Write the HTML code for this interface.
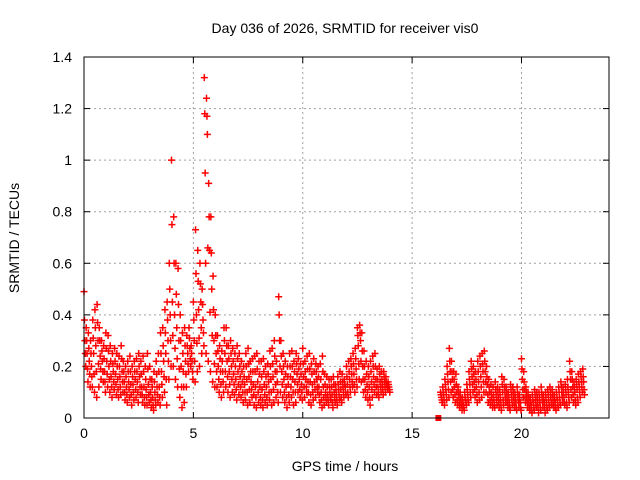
<!DOCTYPE html>
<html><head><meta charset="utf-8"><style>
body{margin:0;background:#fff}
svg{display:block;font-family:"Liberation Sans",sans-serif}
</style></head><body>
<svg id="chart" width="640" height="480" viewBox="0 0 640 480">
<rect width="640" height="480" fill="#fff"/>
<text x="345" y="33" font-size="14" text-anchor="middle">Day 036 of 2026, SRMTID for receiver vis0</text>
<text x="345" y="471" font-size="14" text-anchor="middle">GPS time / hours</text>
<text x="19" y="238" font-size="14" text-anchor="middle" transform="rotate(-90 19 238)">SRMTID / TECUs</text>
<g id="grid"></g>
<g id="axes"></g>
<g id="marks"></g>
<rect x="84" y="57" width="525" height="361" fill="none" stroke="#000" stroke-width="1"/>
</svg>
<script>
const xTicks=[0,5,10,15,20];
const yTicks=[0,0.2,0.4,0.6,0.8,1,1.2,1.4];
const yTickLabels=["0","0.2","0.4","0.6","0.8","1","1.2","1.4"];
const segAStart=0.0, segBStart=16.3, stepHours=0.1;
const segAHi=[0.49,0.35,0.33,0.30,0.38,0.42,0.44,0.35,0.30,0.28,
0.33,0.32,0.28,0.25,0.27,0.25,0.24,0.28,0.22,0.20,
0.22,0.24,0.20,0.22,0.23,0.25,0.22,0.24,0.20,0.25,
0.20,0.15,0.18,0.22,0.25,0.33,0.35,0.42,0.45,0.60,
1.00,0.78,0.60,0.58,0.40,0.33,0.35,0.32,0.35,0.28,
0.45,0.73,0.65,0.60,0.50,1.32,1.24,0.91,0.78,0.55,
0.40,0.32,0.28,0.26,0.35,0.35,0.28,0.30,0.27,0.25,
0.28,0.25,0.22,0.20,0.25,0.27,0.22,0.23,0.24,0.25,
0.22,0.22,0.23,0.20,0.21,0.26,0.27,0.30,0.22,0.47,
0.30,0.25,0.22,0.20,0.25,0.26,0.22,0.25,0.23,0.21,
0.27,0.22,0.24,0.25,0.21,0.23,0.21,0.20,0.21,0.24,
0.17,0.16,0.15,0.15,0.16,0.13,0.16,0.18,0.17,0.15,
0.20,0.22,0.23,0.25,0.27,0.35,0.36,0.33,0.26,0.22,
0.20,0.22,0.24,0.25,0.19,0.20,0.18,0.18,0.16,0.14];
const segAQ3=[0.38,0.30,0.27,0.25,0.31,0.35,0.37,0.30,0.26,0.23,
0.27,0.26,0.22,0.21,0.22,0.20,0.20,0.23,0.18,0.16,
0.18,0.18,0.16,0.18,0.18,0.20,0.17,0.18,0.15,0.19,
0.15,0.12,0.14,0.17,0.18,0.25,0.28,0.33,0.38,0.50,
0.75,0.60,0.48,0.44,0.30,0.25,0.28,0.28,0.31,0.25,
0.38,0.56,0.53,0.52,0.44,1.18,1.17,0.78,0.64,0.42,
0.32,0.26,0.23,0.22,0.30,0.28,0.23,0.25,0.22,0.20,
0.23,0.20,0.18,0.16,0.20,0.21,0.18,0.18,0.18,0.19,
0.17,0.16,0.18,0.16,0.17,0.20,0.21,0.24,0.18,0.40,
0.24,0.20,0.17,0.16,0.20,0.20,0.18,0.21,0.19,0.17,
0.21,0.18,0.19,0.19,0.17,0.18,0.18,0.16,0.15,0.18,
0.13,0.12,0.12,0.12,0.13,0.11,0.13,0.14,0.14,0.13,
0.16,0.18,0.20,0.21,0.23,0.32,0.33,0.26,0.20,0.17,
0.16,0.18,0.20,0.20,0.15,0.17,0.15,0.16,0.14,0.13];
const segAMid=[0.30,0.25,0.22,0.20,0.25,0.28,0.30,0.24,0.22,0.18,
0.22,0.20,0.16,0.18,0.17,0.15,0.16,0.18,0.14,0.12,
0.14,0.13,0.13,0.15,0.14,0.16,0.12,0.12,0.11,0.13,
0.10,0.08,0.10,0.12,0.12,0.18,0.22,0.25,0.30,0.40,
0.45,0.40,0.35,0.30,0.20,0.18,0.22,0.25,0.27,0.22,
0.30,0.40,0.42,0.45,0.38,0.95,1.10,0.65,0.50,0.30,
0.25,0.20,0.18,0.18,0.25,0.22,0.18,0.20,0.17,0.15,
0.18,0.16,0.14,0.13,0.15,0.16,0.14,0.13,0.12,0.14,
0.12,0.11,0.13,0.12,0.14,0.15,0.16,0.18,0.14,0.30,
0.18,0.15,0.12,0.13,0.16,0.15,0.14,0.17,0.15,0.13,
0.16,0.15,0.14,0.14,0.13,0.14,0.15,0.12,0.10,0.12,
0.10,0.09,0.10,0.09,0.10,0.09,0.11,0.11,0.12,0.12,
0.13,0.15,0.17,0.17,0.19,0.28,0.30,0.20,0.15,0.13,
0.12,0.14,0.16,0.15,0.12,0.14,0.13,0.14,0.13,0.12];
const segAQ1=[0.25,0.19,0.17,0.16,0.17,0.18,0.21,0.19,0.18,0.14,
0.17,0.15,0.12,0.14,0.13,0.11,0.12,0.14,0.10,0.09,
0.11,0.09,0.10,0.11,0.10,0.12,0.09,0.08,0.08,0.09,
0.07,0.05,0.07,0.09,0.08,0.13,0.16,0.15,0.22,0.30,
0.32,0.27,0.23,0.19,0.12,0.12,0.17,0.21,0.23,0.18,
0.22,0.29,0.31,0.35,0.33,0.60,0.66,0.41,0.32,0.21,
0.18,0.15,0.13,0.14,0.18,0.16,0.13,0.15,0.13,0.11,
0.13,0.12,0.10,0.10,0.10,0.11,0.11,0.09,0.08,0.10,
0.08,0.07,0.09,0.08,0.10,0.10,0.11,0.13,0.10,0.20,
0.13,0.10,0.08,0.09,0.12,0.10,0.10,0.13,0.11,0.10,
0.12,0.12,0.10,0.09,0.10,0.11,0.12,0.09,0.07,0.08,
0.08,0.07,0.08,0.06,0.08,0.07,0.09,0.08,0.10,0.10,
0.10,0.12,0.14,0.13,0.15,0.21,0.22,0.15,0.11,0.10,
0.08,0.11,0.13,0.12,0.10,0.12,0.11,0.12,0.12,0.11];
const segALo=[0.20,0.14,0.12,0.12,0.10,0.08,0.12,0.15,0.14,0.10,
0.12,0.10,0.08,0.11,0.09,0.08,0.09,0.10,0.07,0.06,
0.08,0.05,0.07,0.08,0.06,0.09,0.06,0.05,0.05,0.06,
0.04,0.03,0.05,0.06,0.05,0.08,0.10,0.05,0.15,0.20,
0.20,0.15,0.12,0.08,0.04,0.06,0.12,0.18,0.20,0.15,
0.14,0.18,0.20,0.25,0.28,0.25,0.22,0.18,0.14,0.12,
0.12,0.10,0.08,0.10,0.12,0.10,0.08,0.10,0.09,0.07,
0.09,0.08,0.06,0.07,0.05,0.06,0.08,0.05,0.04,0.06,
0.05,0.04,0.06,0.05,0.07,0.05,0.06,0.08,0.06,0.10,
0.08,0.06,0.04,0.06,0.08,0.05,0.06,0.10,0.08,0.07,
0.08,0.10,0.06,0.05,0.07,0.08,0.10,0.06,0.04,0.05,
0.06,0.05,0.07,0.04,0.06,0.05,0.07,0.06,0.08,0.09,
0.08,0.10,0.12,0.10,0.12,0.15,0.14,0.10,0.08,0.07,
0.05,0.08,0.10,0.09,0.08,0.10,0.09,0.10,0.11,0.10];
const segBHi=[0.10,0.12,0.15,0.20,0.27,0.22,0.18,0.17,0.12,0.10,
0.08,0.10,0.13,0.18,0.22,0.20,0.18,0.22,0.24,0.25,
0.26,0.20,0.15,0.13,0.12,0.14,0.12,0.11,0.16,0.15,
0.12,0.10,0.13,0.12,0.10,0.12,0.09,0.23,0.18,0.12,
0.10,0.08,0.09,0.11,0.10,0.10,0.12,0.09,0.10,0.11,
0.12,0.11,0.09,0.10,0.12,0.14,0.12,0.13,0.15,0.22,
0.18,0.14,0.15,0.17,0.18,0.19];
const segBQ3=[0.09,0.10,0.13,0.17,0.22,0.18,0.15,0.13,0.10,0.08,
0.06,0.08,0.11,0.15,0.19,0.17,0.15,0.18,0.20,0.21,
0.22,0.16,0.12,0.10,0.09,0.11,0.10,0.09,0.13,0.12,
0.10,0.08,0.11,0.10,0.08,0.10,0.07,0.19,0.14,0.10,
0.08,0.06,0.07,0.09,0.08,0.08,0.10,0.07,0.08,0.09,
0.10,0.09,0.07,0.08,0.10,0.12,0.10,0.11,0.12,0.18,
0.15,0.12,0.13,0.14,0.16,0.16];
const segBMid=[0.08,0.09,0.11,0.14,0.18,0.15,0.12,0.10,0.08,0.06,
0.05,0.07,0.09,0.13,0.16,0.14,0.12,0.14,0.16,0.18,
0.18,0.13,0.10,0.08,0.07,0.09,0.08,0.07,0.10,0.10,
0.08,0.06,0.09,0.08,0.06,0.08,0.06,0.15,0.11,0.08,
0.06,0.05,0.06,0.07,0.06,0.06,0.08,0.06,0.06,0.07,
0.08,0.07,0.06,0.07,0.08,0.10,0.08,0.09,0.10,0.15,
0.12,0.10,0.11,0.12,0.14,0.14];
const segBQ1=[0.07,0.07,0.09,0.11,0.14,0.11,0.09,0.07,0.06,0.05,
0.04,0.06,0.07,0.10,0.13,0.11,0.09,0.10,0.12,0.14,
0.14,0.09,0.07,0.06,0.05,0.07,0.06,0.05,0.07,0.08,
0.06,0.04,0.07,0.06,0.04,0.06,0.04,0.11,0.08,0.06,
0.04,0.03,0.04,0.05,0.04,0.04,0.06,0.04,0.04,0.05,
0.06,0.05,0.04,0.05,0.06,0.08,0.06,0.06,0.08,0.11,
0.09,0.07,0.08,0.10,0.12,0.11];
const segBLo=[0.06,0.05,0.07,0.08,0.10,0.08,0.06,0.05,0.04,0.03,
0.03,0.05,0.06,0.08,0.10,0.08,0.06,0.07,0.08,0.10,
0.10,0.06,0.05,0.04,0.04,0.05,0.04,0.03,0.05,0.06,
0.04,0.03,0.05,0.04,0.03,0.04,0.03,0.08,0.06,0.04,
0.03,0.02,0.03,0.04,0.02,0.03,0.04,0.02,0.03,0.04,
0.05,0.04,0.03,0.04,0.05,0.06,0.05,0.04,0.06,0.08,
0.06,0.05,0.06,0.08,0.10,0.09];
const squareT=[16.2], squareV=[0];

const NS="http://www.w3.org/2000/svg";
const X0=84,X1=609,Y0=418,Y1=57,XMAX=24,YMAX=1.4;
function sx(t){return X0+(X1-X0)*t/XMAX;}
function sy(v){return Y0-(Y0-Y1)*v/YMAX;}
function mk(tag,attrs,parent){const e=document.createElementNS(NS,tag);for(const k in attrs)e.setAttribute(k,attrs[k]);parent.appendChild(e);return e;}
const grid=document.getElementById('grid'),axes=document.getElementById('axes'),marks=document.getElementById('marks');
xTicks.forEach(t=>{
  const x=sx(t);
  if(t>0){const g=mk('line',{x1:x,x2:x,y1:Y1,y2:Y0,stroke:'#a0a0a0','stroke-dasharray':'2,3'},grid);
  
  }
  mk('line',{x1:x,x2:x,y1:Y0,y2:Y0-6,stroke:'#000'},axes);
  mk('line',{x1:x,x2:x,y1:Y1,y2:Y1+6,stroke:'#000'},axes);
  const l=mk('text',{x:x,y:Y0+20,'font-size':14,'text-anchor':'middle'},axes);l.textContent=t;
  
  
});
yTicks.forEach((v,i)=>{
  const y=sy(v);
  if(v>0&&v<YMAX){const g=mk('line',{x1:X0,x2:X1,y1:y,y2:y,stroke:'#a0a0a0','stroke-dasharray':'2,3'},grid);
  
  }
  mk('line',{x1:X0,x2:X0+6,y1:y,y2:y,stroke:'#000'},axes);
  mk('line',{x1:X1,x2:X1-6,y1:y,y2:y,stroke:'#000'},axes);
  const l=mk('text',{x:X0-12,y:y+5,'font-size':14,'text-anchor':'end'},axes);l.textContent=yTickLabels[i];
  
  
});
function plus(t,v,color){
  const x=sx(t),y=sy(v);
  const p=mk('path',{d:`M${x-3.5},${y}H${x+3.5}M${x},${y-3.5}V${y+3.5}`,stroke:color,'stroke-width':1.5,fill:'none'},marks);
  
  
}
function drawSeg(start,arrs){
  arrs.forEach((arr,k)=>{
    arr.forEach((v,i)=>{plus(start+i*stepHours+k*0.02,v,'#f00');});
  });
}
drawSeg(segAStart,[segAHi,segAQ3,segAMid,segAQ1,segALo]);
drawSeg(segBStart,[segBHi,segBQ3,segBMid,segBQ1,segBLo]);
squareT.forEach((t,i)=>{
  const r=mk('rect',{x:sx(t)-3,y:sy(squareV[i])-3,width:6,height:6,fill:'#f00'},marks);
  
  
});
</script>
</body></html>
